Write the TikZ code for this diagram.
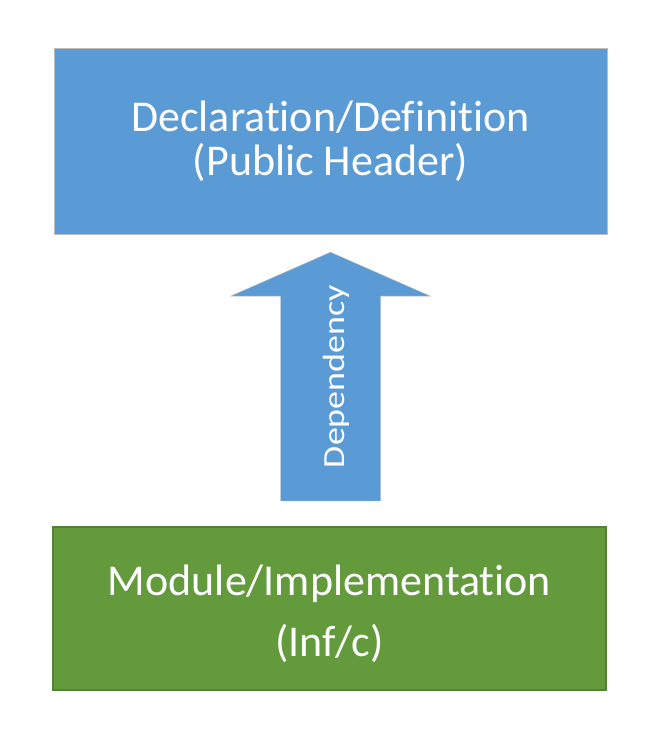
\documentclass[tikz,border=0pt]{standalone}
\usepackage{fontspec}
\setmainfont{Carlito}[Ligatures=NoCommon]
\usetikzlibrary{calc,positioning}
\definecolor{hdrblue}{HTML}{5B9BD5}
\definecolor{modgreen}{HTML}{629A3C}
\definecolor{modborder}{HTML}{548235}
\definecolor{edgegray}{HTML}{BDBDBD}

\begin{document}
\begin{tikzpicture}[x=1pt, y=1pt, every node/.style={text=white, align=center}]
	\useasboundingbox (0,0) rectangle (652,742);
	\node[draw=edgegray, fill=hdrblue, minimum width=553pt, minimum height=186pt, font=\fontsize{44}{44}\selectfont] (decl) at (330.5,601) {Declaration/Definition\\(Public Header)};
	\node[draw=modborder, line width=2pt, fill=modgreen, minimum width=553pt, minimum height=163pt, font=\fontsize{44}{61}\selectfont] (impl) at (329.5,133.5)
		{\raisebox{-5pt}[\height][\depth]{\begin{tabular}{@{}c@{}}Module/Implementation\\(Inf/c)\end{tabular}}};
	
	\coordinate (tip) at ($(decl.south)+(0,-18)$);
	\coordinate (tail) at ($(tip |- impl.north)+(0,25)$);
	\draw[draw=edgegray, fill=hdrblue] ($(tail)+(-50,0)$) -- ($(tip)+(-50,-44)$) -- ($(tip)+(-100,-44)$) -- (tip)
		-- ($(tip)+(100,-44)$) -- ($(tip)+(50,-44)$) -- ($(tail)+(50,0)$) -- cycle;
	\node[rotate=90, font=\fontsize{36}{36}\selectfont] (dep) at ($(tail)!0.5!(tip)+(6,0)$) {\scalebox{1}[0.85]{Dependency}};
\end{tikzpicture}
\end{document}
